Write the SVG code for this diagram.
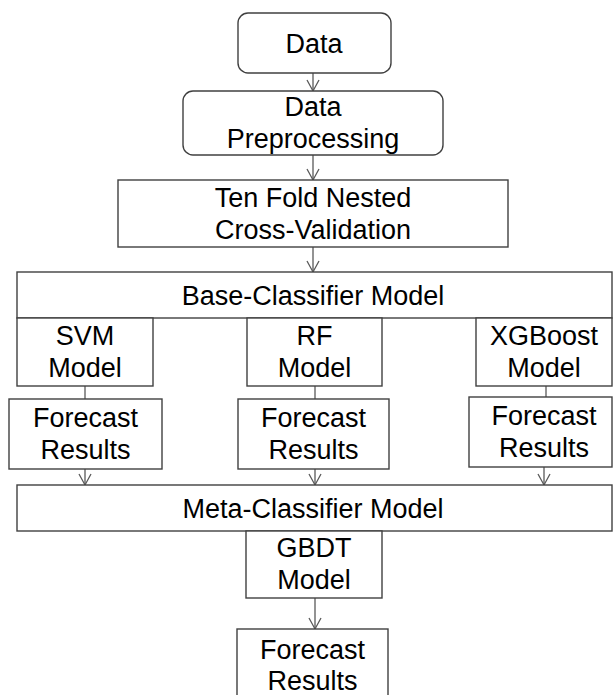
<svg xmlns="http://www.w3.org/2000/svg" width="613" height="695" viewBox="0 0 613 695">
<defs>
<style>
.box{fill:#fff;stroke:#404040;stroke-width:1.4}
.t{font-family:"Liberation Sans",Arial,sans-serif;font-size:27px;fill:#000;text-anchor:middle}
.c{stroke:#595959;stroke-width:1.3;fill:none}
</style>
<marker id="ah" markerUnits="userSpaceOnUse" markerWidth="14" markerHeight="14" viewBox="-12 -7 14 14" refX="0" refY="0" orient="auto">
<path d="M-11,-6 L0,0 L-11,6" fill="none" stroke="#595959" stroke-width="1.3"/>
</marker>
</defs>
<rect width="613" height="695" fill="#fff"/>
<g id="connectors">
<line class="c" x1="313" y1="73" x2="313" y2="91" marker-end="url(#ah)"/>
<line class="c" x1="313" y1="155" x2="313" y2="180" marker-end="url(#ah)"/>
<line class="c" x1="313" y1="247" x2="313" y2="272" marker-end="url(#ah)"/>
<line class="c" x1="85" y1="386" x2="85" y2="399"/>
<line class="c" x1="315" y1="386" x2="315" y2="399"/>
<line class="c" x1="546" y1="386" x2="546" y2="397"/>
<line class="c" x1="85" y1="469" x2="85" y2="485" marker-end="url(#ah)"/>
<line class="c" x1="315" y1="469" x2="315" y2="485" marker-end="url(#ah)"/>
<line class="c" x1="544" y1="467" x2="544" y2="485" marker-end="url(#ah)"/>
<line class="c" x1="315" y1="598" x2="315" y2="629" marker-end="url(#ah)"/>
</g>
<g id="data"><rect class="box" x="238" y="13" width="153" height="60" rx="10"/><text class="t" x="314" y="53">Data</text></g>
<g id="preprocessing"><rect class="box" x="183" y="91" width="260" height="64" rx="10"/><text class="t" x="313" y="116">Data</text><text class="t" x="313" y="148">Preprocessing</text></g>
<g id="crossval"><rect class="box" x="118" y="180" width="390" height="67"/><text class="t" x="313" y="207">Ten Fold Nested</text><text class="t" x="313" y="239">Cross-Validation</text></g>
<g id="base"><rect class="box" x="17" y="272" width="595" height="46"/><text class="t" x="313" y="305">Base-Classifier Model</text></g>
<g id="svm"><rect class="box" x="17" y="318" width="136" height="68"/><text class="t" x="85" y="345">SVM</text><text class="t" x="85" y="377">Model</text></g>
<g id="rf"><rect class="box" x="247" y="318" width="135" height="68"/><text class="t" x="314.5" y="345">RF</text><text class="t" x="314.5" y="377">Model</text></g>
<g id="xgb"><rect class="box" x="476" y="318" width="136" height="68"/><text class="t" x="544" y="345">XGBoost</text><text class="t" x="544" y="377">Model</text></g>
<g id="fr-svm"><rect class="box" x="9" y="399" width="153" height="70"/><text class="t" x="85.5" y="427">Forecast</text><text class="t" x="85.5" y="459">Results</text></g>
<g id="fr-rf"><rect class="box" x="238" y="399" width="151" height="70"/><text class="t" x="313.5" y="427">Forecast</text><text class="t" x="313.5" y="459">Results</text></g>
<g id="fr-xgb"><rect class="box" x="469" y="397" width="143" height="70"/><text class="t" x="544" y="425">Forecast</text><text class="t" x="544" y="457">Results</text></g>
<g id="meta"><rect class="box" x="17" y="485" width="595" height="46"/><text class="t" x="313" y="518">Meta-Classifier Model</text></g>
<g id="gbdt"><rect class="box" x="246" y="531" width="136" height="67"/><text class="t" x="314" y="557">GBDT</text><text class="t" x="314" y="589">Model</text></g>
<g id="fr-final"><rect class="box" x="237" y="629" width="151" height="72"/><text class="t" x="312.5" y="659">Forecast</text><text class="t" x="312.5" y="690">Results</text></g>
</svg>
